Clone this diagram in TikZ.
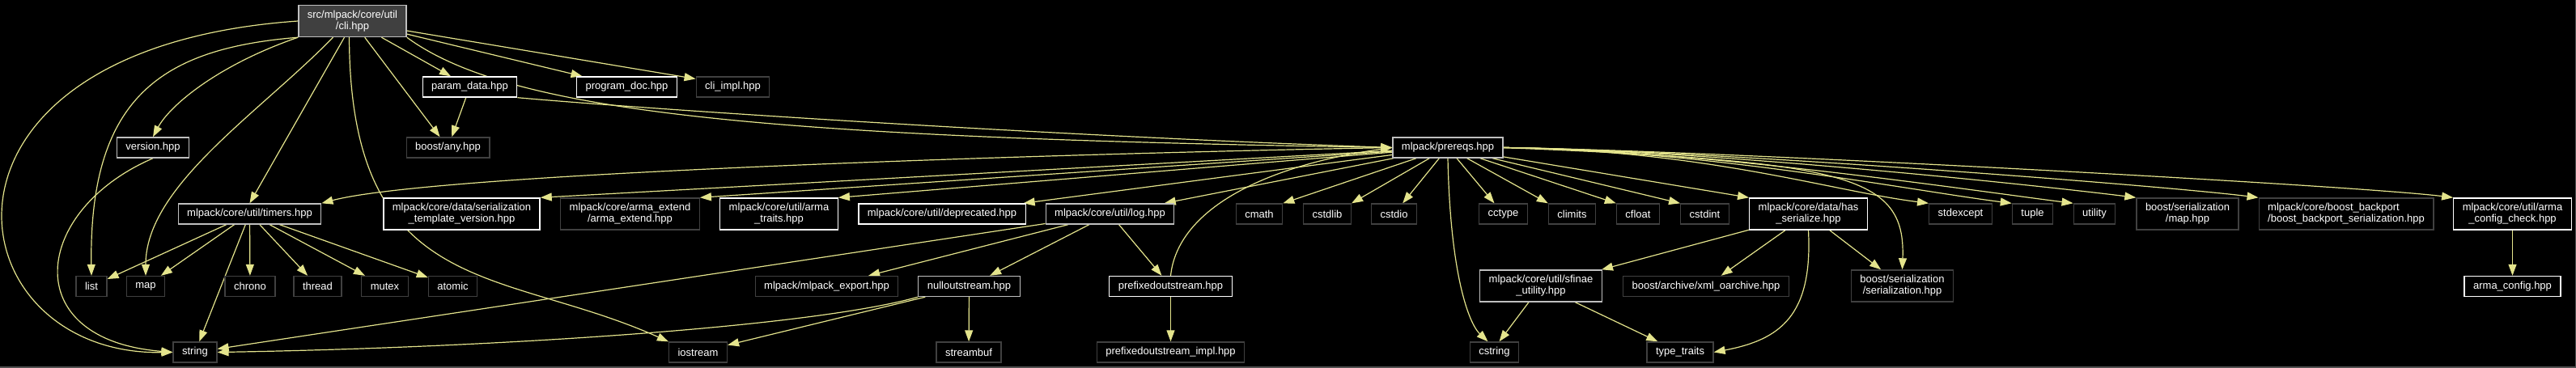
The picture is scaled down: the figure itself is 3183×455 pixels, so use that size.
\documentclass[tikz,border=0pt]{standalone}
\usepackage{fontspec}
\setmainfont{Liberation Sans}
\usetikzlibrary{arrows.meta,backgrounds}
\definecolor{edgeyel}{RGB}{228,228,140}
\definecolor{rootfill}{RGB}{64,64,64}
\definecolor{lightedge}{RGB}{191,191,191}
\definecolor{extedge}{RGB}{64,64,64}
\definecolor{padgray}{RGB}{80,80,80}
\tikzset{
  hdr/.style={draw, fill=black, text=white, line width=1.3pt, inner xsep=11pt, inner ysep=6.5pt,
    minimum height=25pt, align=center, font=\fontsize{13}{14}\selectfont},
  hdrdoc/.style={hdr, draw=white},
  hdrlink/.style={hdr, draw=lightedge},
  hdrext/.style={hdr, draw=extedge},
  hdrroot/.style={hdr, fill=rootfill, draw=lightedge},
  inc/.style={-{Triangle[length=14pt,width=10pt]}, draw=edgeyel, line width=1.2pt},
}

\begin{document}
\begin{tikzpicture}[x=1pt, y=1pt]
  \begin{scope}[on background layer]
    \fill[black] (0,0) rectangle (3183,-455);
    \fill[padgray] (0,-452.5) rectangle (3183,-455);
    \fill[padgray] (3181.5,0) rectangle (3183,-455);
  \end{scope}
  \useasboundingbox (0,0) rectangle (3183,-455);

  % the file itself and what it pulls in directly
  \node[hdrroot] (cli) at (435.5,-26) {src/mlpack/core/util\\/cli.hpp};
  \node[hdrdoc] (paramdata) at (580.5,-107.5) {param\_data.hpp};
  \node[hdrdoc] (progdoc) at (774.5,-107.5) {program\_doc.hpp};
  \node[hdrext] (cliimpl) at (905.5,-107.5) {cli\_impl.hpp};
  \node[hdrlink] (version) at (189,-182.5) {version.hpp};
  \node[hdrext] (boostany) at (553.5,-182.5) {boost/any.hpp};
  \node[hdrlink] (prereqs) at (1789,-182.5) {mlpack/prereqs.hpp};

  % third row
  \node[hdrlink] (timers) at (308.5,-264.5) {mlpack/core/util/timers.hpp};
  \node[hdrdoc] (sertmpl) at (570.5,-264.5) {mlpack/core/data/serialization\\\_template\_version.hpp};
  \node[hdrext] (armaext) at (778.5,-264.5) {mlpack/core/arma\_extend\\/arma\_extend.hpp};
  \node[hdrdoc] (armatraits) at (962.5,-264.5) {mlpack/core/util/arma\\\_traits.hpp};
  \node[hdrdoc] (deprecated) at (1164,-264.5) {mlpack/core/util/deprecated.hpp};
  \node[hdrlink] (log) at (1371.5,-264.5) {mlpack/core/util/log.hpp};
  \foreach \n/\x in {cmath/1556,cstdlib/1640,cstdio/1722.5,cctype/1857.5,climits/1942.5,cfloat/2024,
      cstdint/2106.5,stdexcept/2422.5,tuple/2511.5,utility/2588}
    { \node[hdrext] (\n) at (\x,-264.5) {\n}; }
  \node[hdrdoc] (hasser) at (2234.5,-264.5) {mlpack/core/data/has\\\_serialize.hpp};
  \node[hdrext] (sermap) at (2703,-264.5) {boost/serialization\\/map.hpp};
  \node[hdrext, align=left] (backport) at (2899,-264.5) {mlpack/core/boost\_backport\\/boost\_backport\_serialization.hpp};
  \node[hdrdoc] (armacheck) at (3104.5,-264.5) {mlpack/core/util/arma\\\_config\_check.hpp};

  % fourth row
  \foreach \n/\x in {list/113,map/180,chrono/309,thread/392.5,mutex/475.5,atomic/559.5}
    { \node[hdrext] (\n) at (\x,-354) {\n}; }
  \node[hdrext] (mlexport) at (1021.5,-354) {mlpack/mlpack\_export.hpp};
  \node[hdrlink] (nullout) at (1197.5,-354) {nulloutstream.hpp};
  \node[hdrdoc] (prefout) at (1446.5,-354) {prefixedoutstream.hpp};
  \node[hdrlink] (sfinae) at (1904,-353.5) {mlpack/core/util/sfinae\\\_utility.hpp};
  \node[hdrext] (xmlarch) at (2108,-354) {boost/archive/xml\_oarchive.hpp};
  \node[hdrext] (serhpp) at (2350.5,-353.5) {boost/serialization\\/serialization.hpp};
  \node[hdrdoc] (armaconfig) at (3104.5,-354) {arma\_config.hpp};

  % bottom row
  \foreach \n/\x in {string/241,iostream/862.5,streambuf/1197,cstring/1846.5}
    { \node[hdrext] (\n) at (\x,-435.5) {\n}; }
  \node[hdrext] (prefimpl) at (1446.5,-435.5) {prefixedoutstream\_impl.hpp};
  \node[hdrext] (typetraits) at (2076,-435.5) {type\_traits};

  \begin{scope}[on background layer]
    % cli.hpp
    \foreach \t in {paramdata,progdoc,boostany} \draw[inc] (cli) -- (\t);
    \draw[inc] ([yshift=-12pt]cli.east) -- ([yshift=10pt]cliimpl.west);
    \draw[inc] ([xshift=-10pt]cli.south) -- (timers.north);
    \draw[inc] (cli.west) .. controls (-120,-60) and (-60,-440) .. (string.west);
    \draw[inc] (cli.south west) .. controls (200,-60) and (110,-120) .. (list.north);
    \draw[inc] (cli.south west) .. controls (270,-80) and (210,-130) .. (version.north);
    \draw[inc] ([xshift=-24pt]cli.south) .. controls (320,-140) and (180,-230) .. (map.north);
    \draw[inc] ([xshift=-4pt]cli.south) .. controls (433,-370) and (620,-330) .. (iostream.north west);
    \draw[inc] (cli.south east) .. controls (630,-140) and (950,-170) .. (prereqs.west);
    \draw[inc] (paramdata) -- (boostany);
    \draw[inc] (paramdata.south east) .. controls (800,-135) and (1300,-168) .. (prereqs.west);
    \draw[inc] (version.south) .. controls (40,-260) and (20,-420) .. (string.west);
    % prereqs.hpp
    \draw[inc] (prereqs.west) .. controls +(-300,-5) and +(150,40) .. (timers.north east);
    \foreach \t in {sertmpl,armaext,armatraits,cmath,cstdlib} \draw[inc] (prereqs) -- (\t.north east);
    \foreach \t in {deprecated,log,cstdio,cctype} \draw[inc] (prereqs) -- (\t);
    \foreach \t in {climits,cfloat,cstdint,hasser} \draw[inc] (prereqs) -- (\t.north west);
    \foreach \t in {stdexcept,tuple,utility,sermap,backport,armacheck}
      \draw[inc] (prereqs.east) .. controls +(250,-3) and +(-120,15) .. (\t.north west);
    \draw[inc] (prereqs.south) .. controls (1792,-340) and (1815,-400) .. ([xshift=-8pt]cstring.north);
    \draw[inc] (prereqs.east) .. controls (2280,-200) and (2355,-215) .. (serhpp.north);
    % timers, log and the streams
    \foreach \t in {list,map,chrono,thread,mutex,atomic,string} \draw[inc] (timers) -- (\t);
    \foreach \t in {string,mlexport,nullout,prefout} \draw[inc] (log) -- (\t);
    \foreach \t in {iostream,streambuf} \draw[inc] (nullout) -- (\t);
    \draw[inc] (nullout.south west) .. controls (1000,-405) and (600,-430) .. (string.east);
    \draw[inc] (prefout) -- (prefimpl);
    \draw[inc] (prefout.north) .. controls (1455,-260) and (1560,-205) .. (prereqs.west);
    % serialization helpers
    \foreach \t in {sfinae,xmlarch,serhpp} \draw[inc] (hasser) -- (\t);
    \draw[inc] (hasser.south) .. controls (2240,-390) and (2200,-420) .. (typetraits.east);
    \draw[inc] (sfinae) -- ([xshift=6pt]cstring.north);
    \draw[inc] (sfinae) -- (typetraits);
    \draw[inc] (armacheck) -- (armaconfig);
  \end{scope}
\end{tikzpicture}
\end{document}
